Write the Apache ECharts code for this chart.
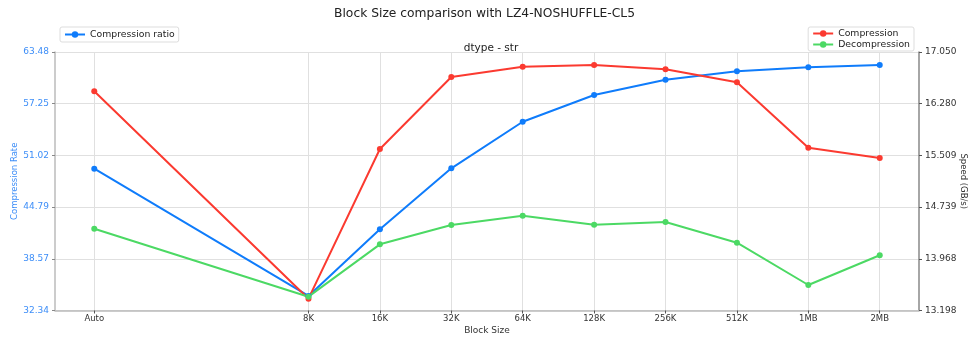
<!DOCTYPE html>
<html>
<head>
<meta charset="utf-8">
<script src="https://cdn.jsdelivr.net/npm/echarts@6/dist/echarts.min.js"></script>
<style>
  html, body { margin: 0; padding: 0; background: #fff; }
  #chart { width: 969px; height: 337px; }
</style>
</head>
<body>
<div id="chart"></div>
<script>
// Block sizes and where they sit on the x scale (8K..2MB on a log2 spacing, Auto set apart)
const blockSizes = ['Auto', '8K', '16K', '32K', '64K', '128K', '256K', '512K', '1MB', '2MB'];
const blockPos = [0, 3, 4, 5, 6, 7, 8, 9, 10, 11];

// Compression ratio (left axis)
const ratio = [49.42, 34.09, 42.12, 49.47, 55.08, 58.30, 60.14, 61.15, 61.64, 61.91];
// Speeds in GB/s (right axis)
const compSpeed = [16.464, 13.374, 15.605, 16.677, 16.831, 16.856, 16.792, 16.598, 15.624, 15.470];
const decompSpeed = [14.417, 13.404, 14.184, 14.472, 14.611, 14.477, 14.517, 14.208, 13.578, 14.021];

// Axis ticks
const ratioTicks = [32.34, 38.57, 44.79, 51.02, 57.25, 63.48];
const speedTicks = [13.198, 13.968, 14.739, 15.509, 16.280, 17.050];

const BLUE = '#0f7cfb';
const RED = '#fb3a30';
const GREEN = '#4cd964';
const FONT = 'DejaVu Sans';

const pairs = arr => arr.map((v, i) => [blockPos[i], v]);

const chart = echarts.init(document.getElementById('chart'), null, { renderer: 'canvas' });

function lineSeries(name, data, color, yIdx) {
  return {
    name: name,
    type: 'line',
    yAxisIndex: yIdx,
    data: pairs(data),
    symbol: 'circle',
    symbolSize: 6,
    showSymbol: true,
    lineStyle: { color: color, width: 2 },
    itemStyle: { color: color },
    emphasis: { disabled: true },
    animation: false
  };
}

chart.setOption({
  animation: false,
  backgroundColor: '#fff',
  title: [
    {
      text: 'Block Size comparison with LZ4-NOSHUFFLE-CL5',
      left: 'center', top: 3,
      textStyle: { fontFamily: FONT, fontSize: 12.3, fontWeight: 'normal', color: '#222' }
    },
    {
      text: 'dtype - str',
      left: 486, top: 38, textAlign: 'center',
      textStyle: { fontFamily: FONT, fontSize: 10.5, fontWeight: 'normal', color: '#222' }
    }
  ],
  legend: [
    {
      data: ['Compression ratio'],
      left: 60, top: 27,
      orient: 'vertical',
      padding: [3, 4, 3, 4],
      borderColor: '#ddd', borderWidth: 1, borderRadius: 2,
      itemWidth: 20, itemHeight: 8, itemGap: 3,
      textStyle: { fontFamily: FONT, fontSize: 9.3, color: '#222' }
    },
    {
      data: ['Compression', 'Decompression'],
      right: 55, top: 27,
      orient: 'vertical',
      padding: [2, 4, 2, 4],
      borderColor: '#ddd', borderWidth: 1, borderRadius: 2,
      itemWidth: 20, itemHeight: 8, itemGap: 2,
      textStyle: { fontFamily: FONT, fontSize: 9.3, color: '#222' }
    }
  ],
  grid: { left: 55, right: 50, top: 52, bottom: 26.5, containLabel: false, outerBoundsMode: 'none' },
  xAxis: {
    type: 'value',
    min: -0.55, max: 11.55,
    name: 'Block Size',
    nameLocation: 'middle',
    nameGap: 16,
    nameMoveOverlap: false,
    nameTextStyle: { fontFamily: FONT, fontSize: 9, color: '#333' },
    axisLine: { show: true, onZero: false, lineStyle: { color: '#bbb', width: 1.5 } },
    axisTick: { show: true, customValues: blockPos, length: 3, lineStyle: { color: '#555' } },
    axisLabel: {
      customValues: blockPos,
      fontFamily: FONT, fontSize: 8.5, color: '#333', margin: 4,
      formatter: v => blockSizes[blockPos.indexOf(Math.round(v))] || ''
    },
    splitLine: { show: true, lineStyle: { color: '#e0e0e0', width: 1 } }
  },
  yAxis: [
    {
      type: 'value',
      position: 'left',
      min: ratioTicks[0], max: ratioTicks[ratioTicks.length - 1],
      name: 'Compression Rate',
      nameLocation: 'middle',
      nameGap: 36,
      nameMoveOverlap: false,
      nameTextStyle: { fontFamily: FONT, fontSize: 8.5, color: '#3d8ef8' },
      axisLine: { show: true, onZero: false, lineStyle: { color: '#bbb', width: 1.5 } },
      axisTick: { show: true, customValues: ratioTicks, length: 3, lineStyle: { color: '#888' } },
      axisLabel: {
        customValues: ratioTicks,
        fontFamily: FONT, fontSize: 9, color: '#3d8ef8', margin: 6,
        formatter: v => v.toFixed(2)
      },
      splitLine: { show: true, lineStyle: { color: '#e0e0e0', width: 1 } }
    },
    {
      type: 'value',
      position: 'right',
      min: speedTicks[0], max: speedTicks[speedTicks.length - 1],
      name: 'Speed (GB/s)',
      nameLocation: 'middle',
      nameGap: 40,
      nameRotate: -90,
      nameMoveOverlap: false,
      nameTextStyle: { fontFamily: FONT, fontSize: 8.5, color: '#333' },
      axisLine: { show: true, onZero: false, lineStyle: { color: '#888', width: 1.5 } },
      axisTick: { show: true, customValues: speedTicks, length: 3, lineStyle: { color: '#555' } },
      axisLabel: {
        customValues: speedTicks,
        fontFamily: FONT, fontSize: 9, color: '#333', margin: 6,
        formatter: v => v.toFixed(3)
      },
      splitLine: { show: false }
    }
  ],
  series: [
    lineSeries('Compression ratio', ratio, BLUE, 0),
    lineSeries('Compression', compSpeed, RED, 1),
    lineSeries('Decompression', decompSpeed, GREEN, 1)
  ]
});
</script>
</body>
</html>
